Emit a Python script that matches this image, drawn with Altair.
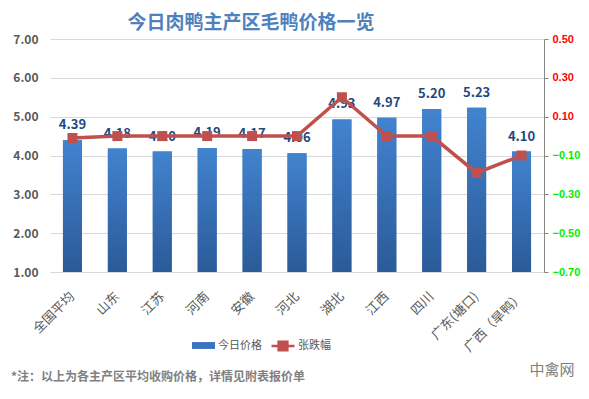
import altair as alt
import pandas as pd

regions = ["全国平均", "山东", "江苏", "河南", "安徽", "河北", "湖北", "江西", "四川", "广东(塘口)", "广西（旱鸭）"]
prices = [4.39, 4.18, 4.10, 4.19, 4.17, 4.06, 4.93, 4.97, 5.20, 5.23, 4.10]
changes = [-0.01, 0.00, 0.00, 0.00, 0.00, 0.00, 0.20, 0.00, 0.00, -0.19, -0.10]
price_ticks = [1, 2, 3, 4, 5, 6, 7]
change_ticks = [-0.7, -0.5, -0.3, -0.1, 0.1, 0.3, 0.5]
series_bar = "今日价格"
series_line = "张跌幅"
title_text = "今日肉鸭主产区毛鸭价格一览"
note_text = "*注：以上为各主产区平均收购价格，详情见附表报价单"
logo_text = "中禽网"

FONT = "Noto Sans CJK SC"
NUM_FONT = "Liberation Sans"

df = pd.DataFrame({
    "region": regions,
    "price": prices,
    "change": changes,
    "s1": series_bar,
    "s2": series_line,
})

x_enc = alt.X(
    "region:N", sort=regions, title=None,
    scale=alt.Scale(paddingInner=0.58, paddingOuter=0.29),
    axis=alt.Axis(labelAngle=-45, labelFont=FONT, labelFontSize=13, labelColor="#595959",
                  ticks=False, domainColor="#d9d9d9", domainWidth=1, labelPadding=22,
                  labelAlign="right", labelBaseline="middle"),
)

y_left = alt.Y(
    "price:Q", title=None,
    scale=alt.Scale(domain=[price_ticks[0], price_ticks[-1]], nice=False, zero=False),
    axis=alt.Axis(values=price_ticks, format=".2f", labelFont=FONT, labelFontSize=12,
                  labelFontWeight="bold", labelColor="#595959", ticks=False, domain=False,
                  gridColor="#d9d9d9", labelPadding=12),
)

base = alt.Chart(df)

bars_solid = base.mark_bar(size=19).encode(
    x=x_enc,
    y=y_left,
    y2=alt.Y2(datum=price_ticks[0]),
    color=alt.Color("s1:N", title=None,
                    scale=alt.Scale(domain=[series_bar], range=["#3a74bd"]),
                    legend=alt.Legend(orient="none", legendX=141, legendY=294, padding=0,
                                      symbolType="M-1,-0.3H1V0.3H-1Z", symbolSize=529,
                                      labelFont=FONT, labelFontSize=11, labelColor="#595959",
                                      labelOffset=2)),
)

bars_grad = base.mark_bar(
    size=19,
    color=alt.Gradient(
        gradient="linear",
        stops=[alt.GradientStop(color="#4283cf", offset=0),
               alt.GradientStop(color="#2b5a98", offset=1)],
        x1=0, x2=0, y1=0, y2=1,
    ),
).encode(x=x_enc, y=y_left, y2=alt.Y2(datum=price_ticks[0]))

bar_labels = base.mark_text(
    dy=-15, font=FONT, fontSize=13, fontWeight="bold", color="#1f497d", baseline="middle"
).encode(x=x_enc, y=y_left, text=alt.Text("price:Q", format=".2f"))

left = alt.layer(bars_solid, bars_grad, bar_labels)

y_right = alt.Y(
    "change:Q", title=None,
    scale=alt.Scale(domain=[change_ticks[0], change_ticks[-1]], nice=False, zero=False),
    axis=alt.Axis(orient="right", values=change_ticks, format=".2f", labelFont=NUM_FONT,
                  labelFontSize=11, labelFontWeight="bold",
                  labelColor={"condition": {"test": "datum.value > 0", "value": "#ff0000"},
                              "value": "#00ee00"},
                  grid=False, domainColor="#868686", tickColor="#868686", tickSize=4,
                  labelPadding=4),
)

line = base.mark_line(strokeWidth=3.5).encode(
    x=x_enc, y=y_right,
    color=alt.Color("s2:N", title=None,
                    scale=alt.Scale(domain=[series_line], range=["#c0504d"]),
                    legend=alt.Legend(orient="none", legendX=220, legendY=294, padding=0,
                                      symbolType="M-1,0H1M-0.38,-0.38H0.38V0.38H-0.38Z",
                                      symbolSize=529, symbolStrokeWidth=2.5,
                                      symbolFillColor="#c0504d",
                                      labelFont=FONT, labelFontSize=11, labelColor="#595959",
                                      labelOffset=2)),
)
squares = base.mark_square(size=100, color="#c0504d", opacity=1).encode(x=x_enc, y=y_right)

right = alt.layer(line, squares)

title = alt.Chart(pd.DataFrame({"t": [title_text]})).mark_text(
    font=FONT, fontSize=19, fontWeight="bold", color="#4f81bd", align="center", baseline="middle"
).encode(text="t:N", x=alt.value(201), y=alt.value(-16))

note = alt.Chart(pd.DataFrame({"t": [note_text]})).mark_text(
    font=FONT, fontSize=12, fontWeight="bold", color="#7f7f7f", align="left", baseline="middle"
).encode(text="t:N", x=alt.value(-39), y=alt.value(338))

logo = alt.Chart(pd.DataFrame({"t": [logo_text]})).mark_text(
    font=FONT, fontSize=15, color="#808080", align="center", baseline="middle"
).encode(text="t:N", x=alt.value(502), y=alt.value(331))

chart = alt.layer(left, right, title, note, logo).resolve_scale(
    y="independent", color="independent"
).properties(
    width=494, height=233,
    padding={"left": 42, "top": 31, "right": 37, "bottom": 112},
    autosize=alt.AutoSizeParams(type="none"),
    background="white",
).configure_view(stroke=None)

chart.save("out.html", embed_options={"renderer": "svg", "actions": False})
